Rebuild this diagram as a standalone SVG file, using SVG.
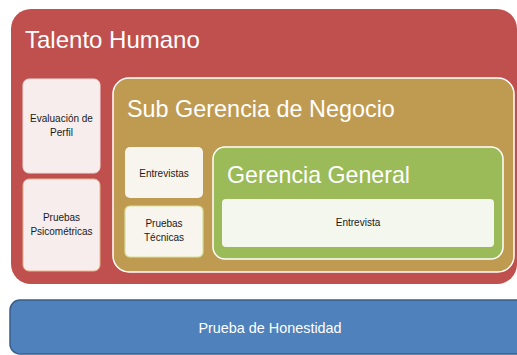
<svg xmlns="http://www.w3.org/2000/svg" width="517" height="355" viewBox="0 0 517 355">
<style>
text{font-family:"Liberation Sans",Arial,sans-serif}
.title{fill:#FFFFFF}
.small{font-size:10px;fill:#1a1a1a;text-anchor:middle}
</style>
<rect x="0" y="0" width="517" height="355" fill="#FFFFFF"/>
<g id="talento-humano">
<rect x="11" y="9" width="506" height="275" rx="20" fill="#C0504D"/>
<text class="title" x="25" y="48" font-size="24">Talento Humano</text>
</g>
<g id="evaluacion-perfil">
<rect x="23" y="79" width="77" height="94" rx="6" fill="#F7EDED" stroke="#F2DCDB" stroke-width="1"/>
<text class="small" x="61.5" y="122">Evaluación de</text>
<text class="small" x="61.5" y="136">Perfil</text>
</g>
<g id="pruebas-psicometricas">
<rect x="23" y="179" width="77" height="92" rx="6" fill="#F7EDED" stroke="#E8B58A" stroke-width="1"/>
<text class="small" x="61.5" y="221">Pruebas</text>
<text class="small" x="61.5" y="235">Psicométricas</text>
</g>
<g id="sub-gerencia">
<rect x="113" y="78" width="401" height="194" rx="16" fill="#BF9B52" stroke="#FFFFFF" stroke-width="1.5"/>
<text class="title" x="127" y="117" font-size="23.4">Sub Gerencia de Negocio</text>
</g>
<g id="entrevistas">
<rect x="125" y="147" width="78" height="51" rx="5" fill="#F8F4EE"/>
<text class="small" x="164" y="177">Entrevistas</text>
</g>
<g id="pruebas-tecnicas">
<rect x="125" y="206" width="78" height="51" rx="5" fill="#F8F4EE" stroke="#D7E29A" stroke-width="1.2"/>
<text class="small" x="164" y="227">Pruebas</text>
<text class="small" x="164" y="241">Técnicas</text>
</g>
<g id="gerencia-general">
<rect x="213" y="147" width="290" height="112" rx="12" fill="#9BBB59" stroke="#FFFFFF" stroke-width="1.5"/>
<text class="title" x="227" y="183" font-size="23.2">Gerencia General</text>
</g>
<g id="entrevista">
<rect x="222" y="199" width="272" height="48" rx="4" fill="#F4F7EE"/>
<text class="small" x="358" y="226">Entrevista</text>
</g>
<g id="prueba-honestidad">
<rect x="10" y="300" width="530" height="54" rx="10" fill="#4F81BD" stroke="#385D8A" stroke-width="1.5"/>
<text class="title" x="270" y="333" font-size="14.4" text-anchor="middle">Prueba de Honestidad</text>
</g>
<g id="connectors"/>
</svg>
